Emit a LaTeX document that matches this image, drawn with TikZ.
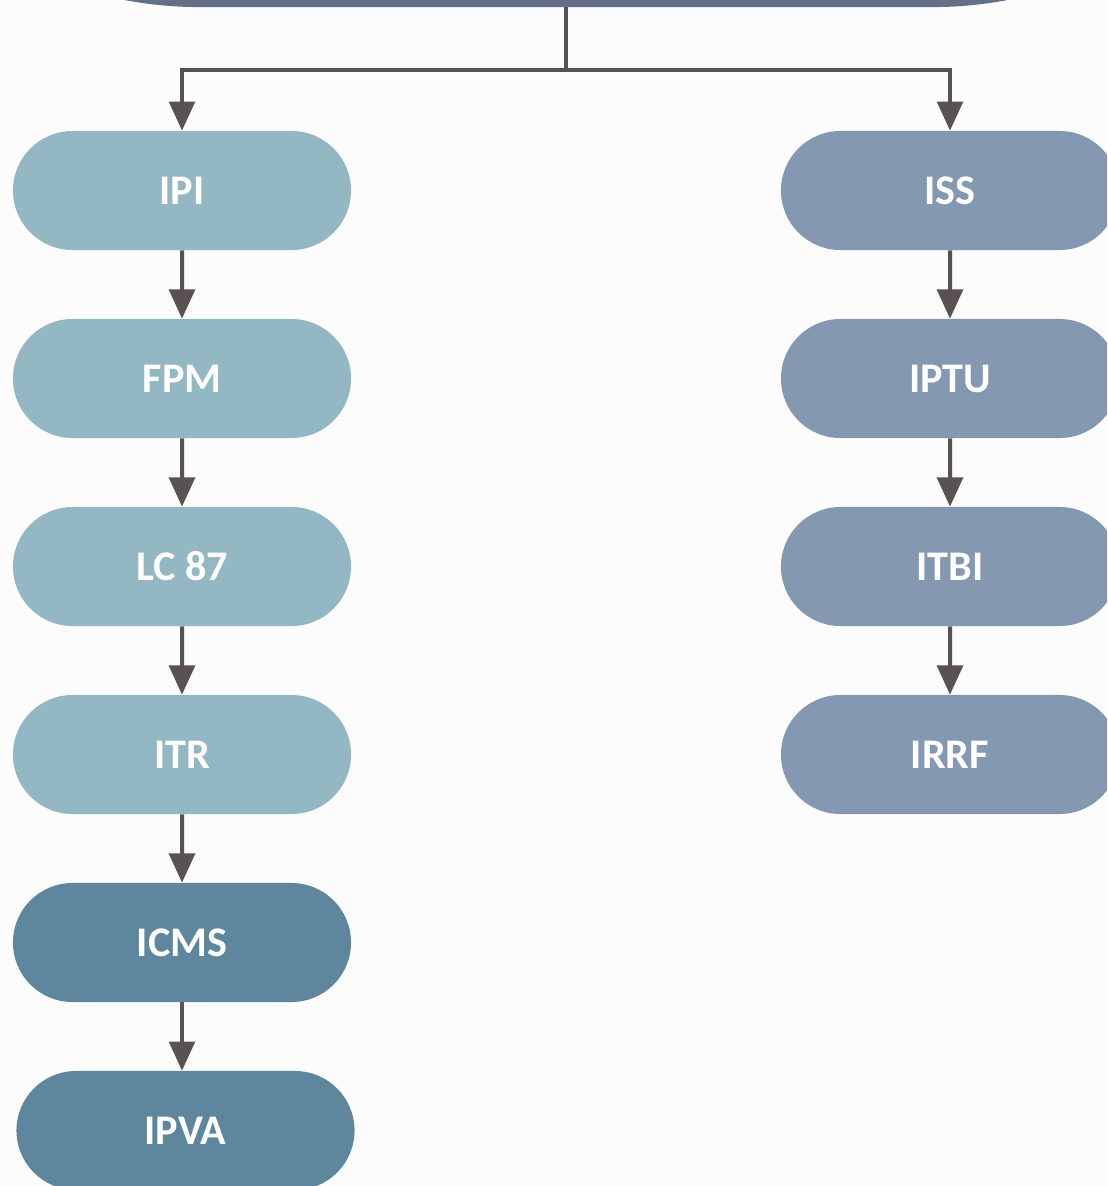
\documentclass[tikz,border=0pt]{standalone}
\usepackage{fontspec}
\setmainfont{Carlito}
\usepackage{xcolor}
\usepackage{tikz}
\usetikzlibrary{shapes.misc,arrows.meta}

\definecolor{paper}{HTML}{FCFCFC}
\definecolor{topgrey}{HTML}{637088}
\definecolor{fedlight}{HTML}{93B7C3}
\definecolor{feddark}{HTML}{5E879D}
\definecolor{munblue}{HTML}{8498B2}
\definecolor{wire}{HTML}{5A5252}

\tikzset{
  pill/.style={rounded rectangle,inner sep=0pt,minimum width=8.45cm,minimum height=2.975cm,
    text=white,font=\fontsize{30}{36}\selectfont\bfseries},
  federal/.style={pill,fill=fedlight},
  estadual/.style={pill,fill=feddark},
  municipal/.style={pill,fill=munblue},
  wireline/.style={draw=wire,line width=0.1cm},
  flow/.style={wireline,-{Triangle[width=0.64cm,length=0.73cm]}}
}

\begin{document}
\begin{tikzpicture}[x=0.025cm,y=-0.025cm]
\useasboundingbox (0,0) rectangle (1107,1186);
\clip (0,0) rectangle (1107,1186);
\fill[paper] (0,0) rectangle (1107,1186);

% top box, only its lower edge shows
\node[rectangle,fill=topgrey,rounded corners=10cm,minimum width=38.3cm,minimum height=20cm] (top) at (566,-393) {};

% left column
\node[federal] (ipi) at (182,190.5) {IPI};
\node[federal] (fpm) at (182,378.5) {FPM};
\node[federal] (lc) at (182,566.5) {LC 87};
\node[federal] (itr) at (182,754.5) {ITR};
\node[estadual] (icms) at (182,942.5) {ICMS};
\node[estadual] (ipva) at (185.5,1130.5) {IPVA};

% right column
\node[municipal] (iss) at (950,190.5) {ISS};
\node[municipal] (iptu) at (950,378.5) {IPTU};
\node[municipal] (itbi) at (950,566.5) {ITBI};
\node[municipal] (irrf) at (950,754.5) {IRRF};

% connectors
\coordinate (bus) at (566,70);
\draw[wireline] (top.south) -- (bus);
\draw[flow] (bus) -| (ipi.north);
\draw[flow] (bus) -| (iss.north);
\draw[flow] (ipi) -- (fpm);
\draw[flow] (fpm) -- (lc);
\draw[flow] (lc) -- (itr);
\draw[flow] (itr) -- (icms);
\draw[flow] (icms.south) -- (icms.south |- ipva.north);
\draw[flow] (iss) -- (iptu);
\draw[flow] (iptu) -- (itbi);
\draw[flow] (itbi) -- (irrf);
\end{tikzpicture}
\end{document}
